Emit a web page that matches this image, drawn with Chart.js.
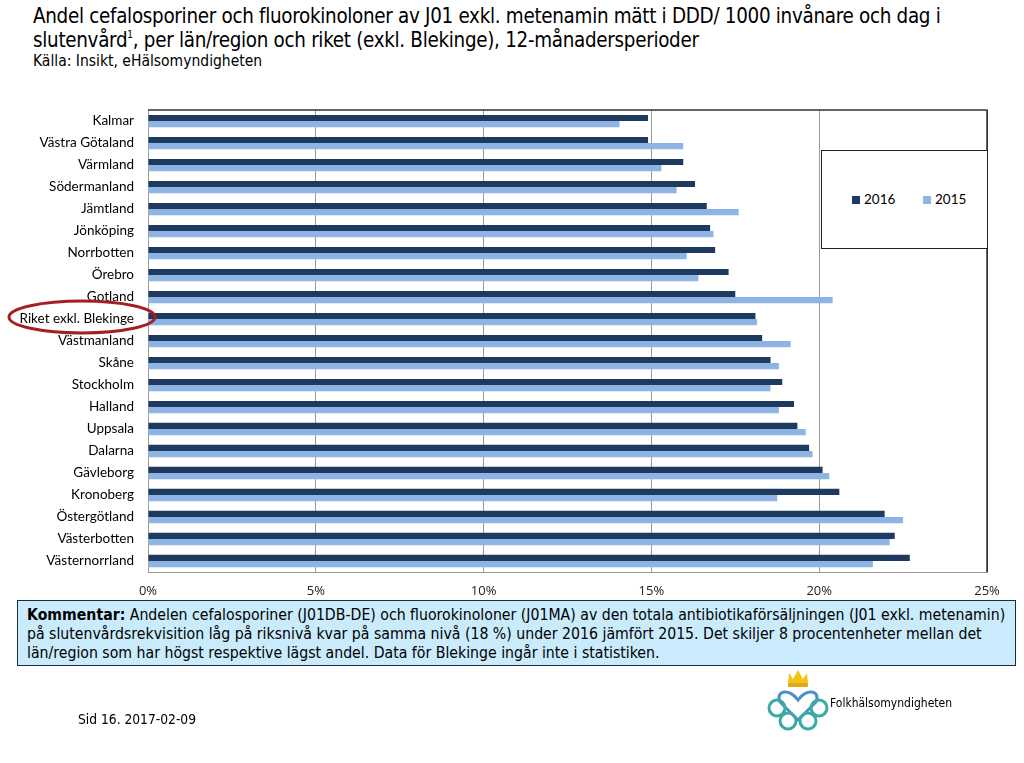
<!DOCTYPE html>
<html lang="sv">
<head>
  <meta charset="UTF-8">
  <title>Andel cefalosporiner och fluorokinoloner</title>
  <script src="https://cdn.jsdelivr.net/npm/chart.js"></script>
  <style>
    body {
      margin: 0;
      width: 1024px;
      height: 763px;
      background: #fff;
      position: relative;
      overflow: hidden;
      font-family: "DejaVu Sans Condensed", "Liberation Sans Narrow", Arial, sans-serif;
      color: #000;
    }
    #title {
      position: absolute;
      left: 33px;
      top: 4px;
      font-size: 20.4px;
      line-height: 24px;
      letter-spacing: -0.3px;
    }
    #title sup {
      font-size: 10px;
      vertical-align: 9px;
      line-height: 0;
    }
    #source {
      position: absolute;
      left: 33px;
      top: 52px;
      font-size: 15.5px;
    }
    #chartBox {
      position: absolute;
      left: 0;
      top: 88px;
      width: 1024px;
      height: 512px;
    }
    #legend {
      position: absolute;
      left: 821px;
      top: 150px;
      width: 165px;
      height: 97px;
      border: 1px solid #222;
      background: #fff;
      font-family: Lato, "Open Sans", sans-serif;
      font-size: 13.5px;
    }
    #legend span {
      position: absolute;
      top: 40px;
    }
    #legend i {
      display: inline-block;
      width: 8px;
      height: 8px;
      margin-right: 4px;
    }
    #comment {
      position: absolute;
      left: 17px;
      top: 600px;
      width: 988px;
      height: 60px;
      padding: 4px 0 0 9px;
      background: #c9ebfb;
      border: 1px solid #1b2b3a;
      font-size: 15.7px;
      line-height: 19px;
    }
    #footer {
      position: absolute;
      left: 78px;
      top: 711px;
      font-size: 13.7px;
    }
    #logoText {
      position: absolute;
      left: 830px;
      top: 696px;
      font-size: 12px;
    }
    svg.overlay {
      position: absolute;
      left: 0;
      top: 0;
      pointer-events: none;
    }
  </style>
</head>
<body>

  <div id="title">Andel cefalosporiner och fluorokinoloner av J01 exkl. metenamin mätt i DDD/ 1000 invånare och dag i<br>slutenvård<sup>1</sup>, per län/region och riket (exkl. Blekinge), 12-månadersperioder</div>
  <div id="source">Källa: Insikt, eHälsomyndigheten</div>

  <div id="chartBox"><canvas id="chart"></canvas></div>

  <div id="legend">
    <span style="left:30px"><i style="background:#1f3a5f"></i>2016</span>
    <span style="left:101px"><i style="background:#8db4e2"></i>2015</span>
  </div>

  <svg class="overlay" width="1024" height="763">
    <ellipse cx="82" cy="317" rx="73" ry="16" fill="none" stroke="#a51e22" stroke-width="3"/>
    <!-- logo -->
    <path d="M788 684 L789 673 L793 679 L798 670 L803 679 L807 673 L808 684 Z" fill="#f3c31a"/>
    <rect x="788" y="683" width="20" height="4" rx="1" fill="#e0a812"/>
    <path d="M798 700 C790 688 775 690 780 702 L798 720 L816 702 C821 690 806 688 798 700 Z" fill="none" stroke="#4b8fce" stroke-width="3"/>
    <circle cx="777" cy="708" r="8" fill="none" stroke="#3aaba0" stroke-width="3"/>
    <circle cx="819" cy="708" r="8" fill="none" stroke="#3aaba0" stroke-width="3"/>
    <circle cx="788" cy="721" r="8" fill="none" stroke="#3aaba0" stroke-width="3"/>
    <circle cx="808" cy="721" r="8" fill="none" stroke="#3aaba0" stroke-width="3"/>
  </svg>

  <div id="comment"><b>Kommentar:</b> Andelen cefalosporiner (J01DB-DE) och fluorokinoloner (J01MA) av den totala antibiotikaförsäljningen (J01 exkl. metenamin) på slutenvårdsrekvisition låg på riksnivå kvar på samma nivå (18 %) under 2016 jämfört 2015. Det skiljer 8 procentenheter mellan det län/region som har högst respektive lägst andel. Data för Blekinge ingår inte i statistiken.</div>

  <div id="footer">Sid 16. 2017-02-09</div>
  <div id="logoText">Folkhälsomyndigheten</div>

  <script>
    const regions = [
      "Kalmar", "Västra Götaland", "Värmland", "Södermanland", "Jämtland",
      "Jönköping", "Norrbotten", "Örebro", "Gotland", "Riket exkl. Blekinge",
      "Västmanland", "Skåne", "Stockholm", "Halland", "Uppsala",
      "Dalarna", "Gävleborg", "Kronoberg", "Östergötland", "Västerbotten",
      "Västernorrland"
    ];

    // andel i procent
    const values2016 = [
      14.9, 14.9, 15.95, 16.3, 16.65,
      16.75, 16.9, 17.3, 17.5, 18.1,
      18.3, 18.55, 18.9, 19.25, 19.35,
      19.7, 20.1, 20.6, 21.95, 22.25,
      22.7
    ];
    const values2015 = [
      14.05, 15.95, 15.3, 15.75, 17.6,
      16.85, 16.05, 16.4, 20.4, 18.15,
      19.15, 18.8, 18.55, 18.8, 19.6,
      19.8, 20.3, 18.75, 22.5, 22.1,
      21.6
    ];

    const xTicks = [0, 5, 10, 15, 20, 25];

    // dark border on top and right of the plot area
    const plotBorder = {
      id: "plotBorder",
      afterDraw(chart) {
        const a = chart.chartArea;
        const ctx = chart.ctx;
        ctx.save();
        ctx.strokeStyle = "#333";
        ctx.lineWidth = 1.5;
        ctx.beginPath();
        ctx.moveTo(a.left, a.top);
        ctx.lineTo(a.right, a.top);
        ctx.lineTo(a.right, a.bottom);
        ctx.stroke();
        ctx.restore();
      }
    };

    new Chart(document.getElementById("chart"), {
      type: "bar",
      data: {
        labels: regions,
        datasets: [
          { label: "2016", data: values2016, backgroundColor: "#1f3a5f" },
          { label: "2015", data: values2015, backgroundColor: "#8db4e2" }
        ]
      },
      options: {
        indexAxis: "y",
        responsive: true,
        maintainAspectRatio: false,
        animation: false,
        categoryPercentage: 0.56,
        barPercentage: 1.0,
        layout: { padding: { top: 8, right: 37, left: 0, bottom: 0 } },
        plugins: {
          legend: { display: false },
          tooltip: { enabled: false }
        },
        scales: {
          x: {
            min: 0,
            max: 25,
            afterBuildTicks(scale) {
              scale.ticks = xTicks.map(v => ({ value: v }));
            },
            afterFit(scale) { scale.height = 28; },
            grid: {
              color: ctx => ctx.tick && ctx.tick.value === 25 ? "#333" : "#9a9a9a",
              drawTicks: false
            },
            border: { color: "#9a9a9a" },
            ticks: {
              padding: 11,
              color: "#222",
              font: { family: "'Open Sans', Lato, sans-serif", size: 13 },
              callback: v => v + "%"
            }
          },
          y: {
            afterFit(scale) { scale.width = 148; },
            grid: { display: false, drawTicks: false },
            border: { color: "#9a9a9a" },
            ticks: {
              padding: 14,
              color: "#000",
              autoSkip: false,
              font: { family: "Lato, 'Open Sans', sans-serif", size: 13.5 }
            }
          }
        }
      },
      plugins: [plotBorder]
    });
  </script>

</body>
</html>
